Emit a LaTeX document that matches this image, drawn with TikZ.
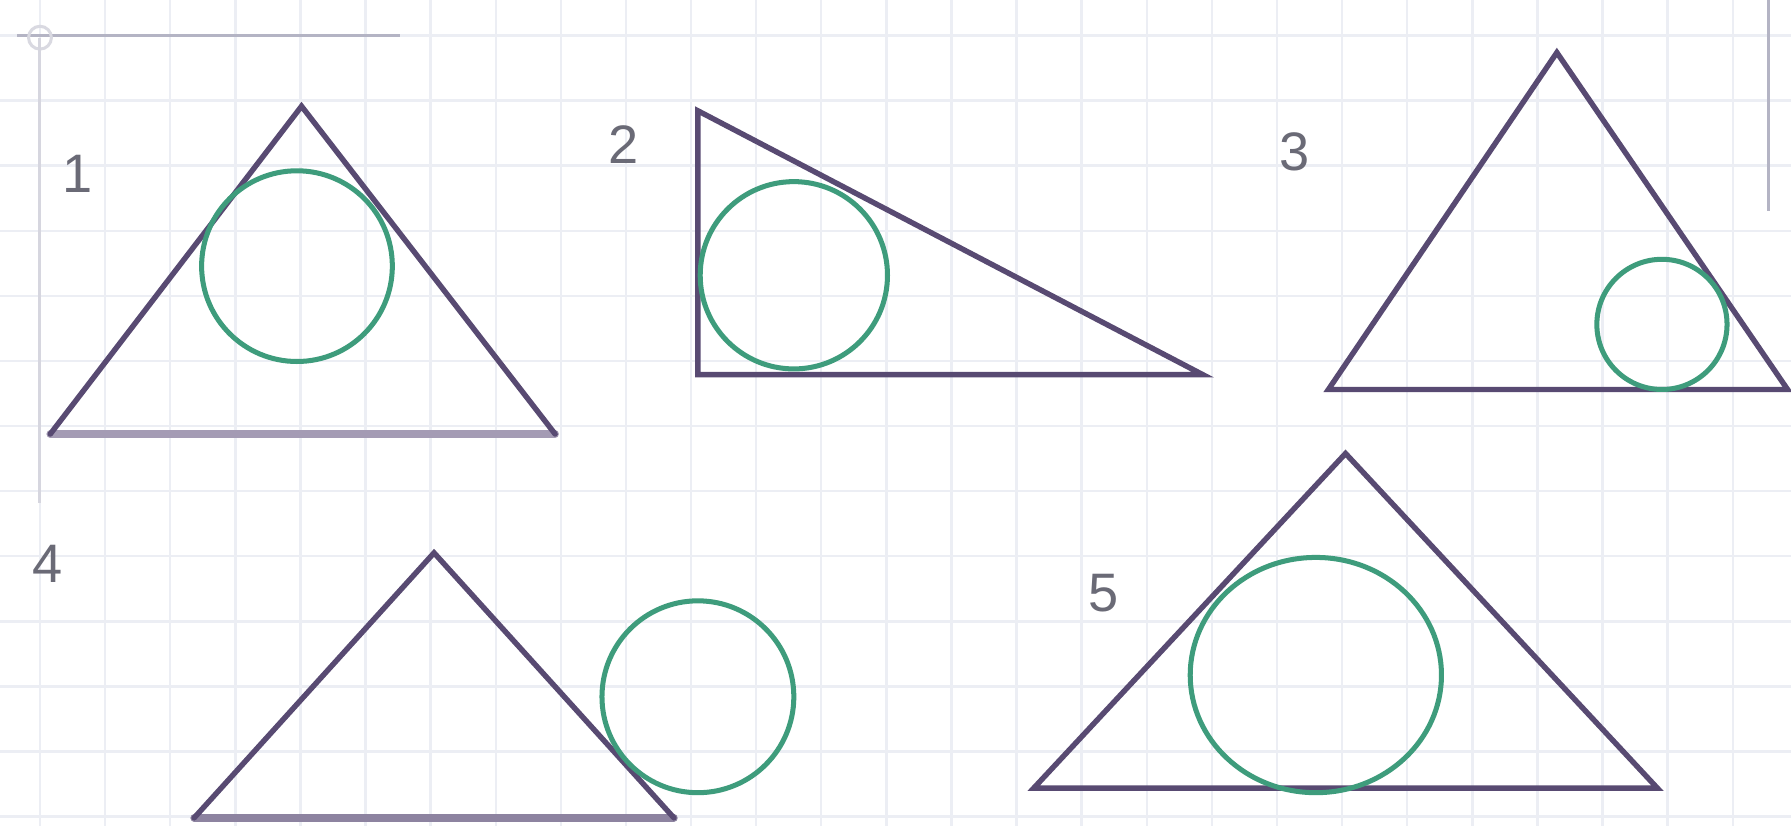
\documentclass[tikz,border=0pt]{standalone}
\usepackage{fontspec}
\setmainfont{Liberation Sans}
\usetikzlibrary{shapes.geometric}
\definecolor{gridc}{HTML}{ECEEF4}
\definecolor{tri}{HTML}{584A72}
\definecolor{tribase}{HTML}{A49BB4}
\definecolor{circ}{HTML}{3E9C7C}
\definecolor{lab}{HTML}{6A6A76}
\definecolor{axisc}{HTML}{B4B4C4}
\tikzset{
  gridline/.style={draw=gridc, line width=1.2pt},
  triside/.style={draw=tri, line width=2.7pt, line join=miter, line cap=round},
  tribottom/.style={draw=tribase, line width=3.8pt, line cap=round},
  incirc/.style={draw=circ, line width=2.5pt},
  numlab/.style={text=lab, font=\fontsize{27}{27}\selectfont, inner sep=0pt},
  axisline/.style={draw=axisc, line width=1.5pt}
}
\begin{document}
\begin{tikzpicture}[x=0.02cm,y=-0.02cm]
\fill[white] (0,0) rectangle (1568,723);
\useasboundingbox (0,0) rectangle (1568,723);
% grid
\foreach \k in {-1,...,27} { \draw[gridline] ({35+57*\k},0) -- ({35+57*\k},723); }
\foreach \k in {-1,...,13} { \draw[gridline] (0,{31+57*\k}) -- (1568,{31+57*\k}); }
% axes remnants
\draw[axisline] (15,31) -- (350,31);
\draw[axisline, draw=axisc!50] (35,33) circle (10);
\draw[axisline, draw=axisc!55] (35,33) -- (35,440);
\draw[axisline] (1548,0) -- (1548,185);

% figure 1
\coordinate (a1) at (264,93); \coordinate (b1) at (44,380); \coordinate (c1) at (486,380);
\draw[tribottom] (b1) -- (c1);
\draw[triside] (b1) -- (a1) -- (c1);
\node[incirc, circle, minimum size=3.34cm, inner sep=0pt] (o1) at (260,233) {};
\node[numlab] (n1) at (68,152) {1};

% figure 2
\coordinate (a2) at (611,97); \coordinate (b2) at (611,328); \coordinate (c2) at (1053,328);
\draw[triside] (c2) -- (b2) -- (a2) -- cycle;
\node[incirc, circle, minimum size=3.28cm, inner sep=0pt] (o2) at (695,241) {};
\node[numlab] (n2) at (546,127) {2};

% figure 3
\coordinate (a3) at (1363,46); \coordinate (b3) at (1163,341); \coordinate (c3) at (1565,341);
\draw[triside] (b3) -- (a3) -- (c3) -- cycle;
\node[incirc, circle, minimum size=2.28cm, inner sep=0pt] (o3) at (1455,284) {};
\node[numlab] (n3) at (1133,133) {3};

% figure 4
\coordinate (a4) at (380,484); \coordinate (b4) at (170,716); \coordinate (c4) at (590,716);
\draw[tribottom, draw=tribase!70!tri] (b4) -- (c4);
\draw[triside] (b4) -- (a4) -- (c4);
\node[incirc, circle, minimum size=3.36cm, inner sep=0pt] (o4) at (611,610) {};
\node[numlab] (n4) at (42,494) {4};

% figure 5
\coordinate (a5) at (1178,397); \coordinate (b5) at (905,690); \coordinate (c5) at (1451,690);
\draw[triside] (b5) -- (a5) -- (c5) -- cycle;
\node[incirc, ellipse, minimum width=4.4cm, minimum height=4.12cm, inner sep=0pt] (o5) at (1152,591) {};
\node[numlab] (n5) at (966,519) {5};
\end{tikzpicture}
\end{document}
